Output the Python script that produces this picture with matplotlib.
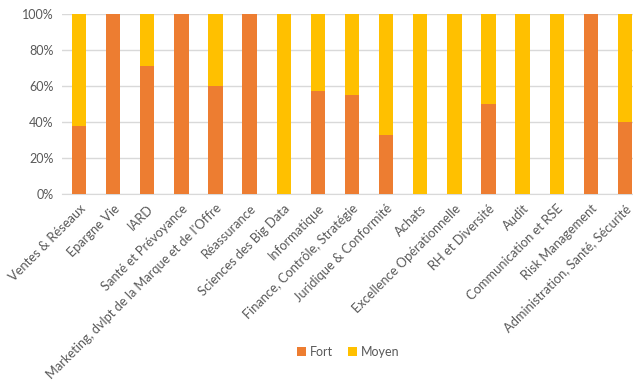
import numpy as np
import matplotlib.pyplot as plt
from matplotlib.ticker import PercentFormatter

categories = ["Ventes & Réseaux", "Epargne Vie", "IARD", "Santé et Prévoyance",
              "Marketing, dvlpt de la Marque et de l'Offre", "Réassurance",
              "Sciences des Big Data", "Informatique", "Finance, Contrôle, Stratégie",
              "Juridique & Conformité", "Achats", "Excellence Opérationnelle",
              "RH et Diversité", "Audit", "Communication et RSE", "Risk Management",
              "Administration, Santé, Sécurité"]
fort = np.array([38, 100, 71, 100, 60, 100, 0, 57, 55, 33, 0, 0, 50, 0, 0, 100, 40])
moyen = 100 - fort

plt.rcParams['font.family'] = ['Lato', 'DejaVu Sans']
gray = '#595959'

fig = plt.figure(figsize=(6.33, 3.82), dpi=100)
ax = fig.add_axes([62/633, 1-194/382, (642-62)/633, 180/382])

x = np.arange(len(categories))
ax.bar(x, fort, width=0.42, color='#ED7D31', label='Fort', zorder=3)
ax.bar(x, moyen, width=0.42, bottom=fort, color='#FFC000', label='Moyen', zorder=3)

ax.set_xlim(-0.5, len(categories)-0.5)
ax.set_ylim(0, 100)
ax.set_yticks(np.arange(0, 101, 20))
ax.yaxis.set_major_formatter(PercentFormatter(decimals=0))
ax.grid(axis='y', color='#D9D9D9', linewidth=1, zorder=0)
for s in ['top', 'right', 'left']:
    ax.spines[s].set_visible(False)
ax.spines['bottom'].set_color('#D9D9D9')
ax.tick_params(axis='both', length=0, colors=gray, labelsize=9)
ax.tick_params(axis='y', pad=6)
ax.tick_params(axis='x', pad=6, labelsize=9.3)
ax.set_xticks(x)
ax.set_xticklabels(categories, rotation=45, ha='right', rotation_mode='anchor')

fig.legend(loc='center', bbox_to_anchor=(0.55, 1-352/382), ncol=2, frameon=False,
           fontsize=9, labelcolor=gray, handlelength=0.7, handleheight=0.7,
           handletextpad=0.3, columnspacing=1.2)

fig.savefig('out.png', dpi=100)
